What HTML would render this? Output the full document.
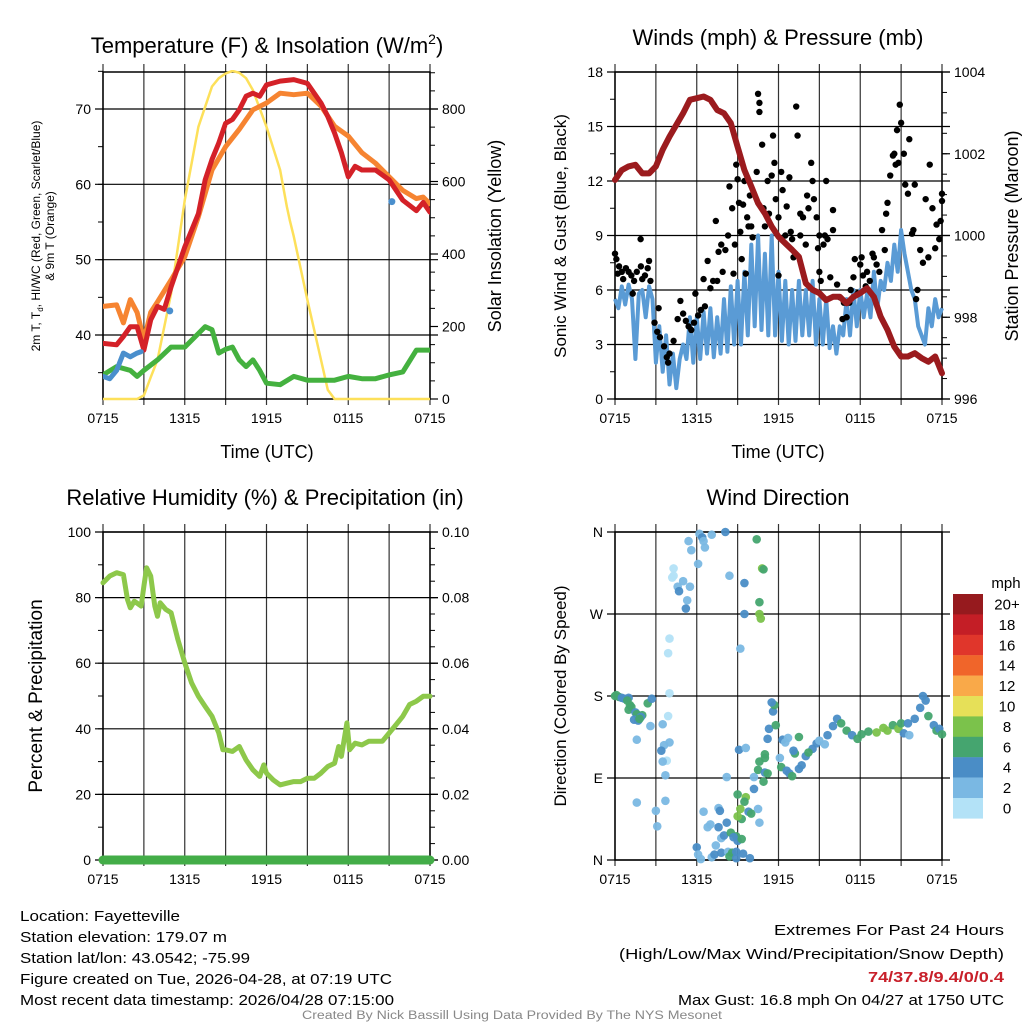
<!DOCTYPE html>
<html><head><meta charset="utf-8"><style>
html,body{margin:0;padding:0;background:#fff}
svg{display:block;font-family:"Liberation Sans",Arial,sans-serif}
</style></head><body>
<svg id="fig" width="1024" height="1024" viewBox="0 0 1024 1024" xmlns="http://www.w3.org/2000/svg">
<rect width="1024" height="1024" fill="#fff"/>
<g id="layer"></g>
<text x="267" y="53" font-size="22" text-anchor="middle">Temperature (F) &amp; Insolation (W/m<tspan font-size="14" dy="-9">2</tspan><tspan dy="9">)</tspan></text>
<text x="778" y="45" font-size="22" text-anchor="middle">Winds (mph) &amp; Pressure (mb)</text>
<text x="265" y="505" font-size="22" text-anchor="middle">Relative Humidity (%) &amp; Precipitation (in)</text>
<text x="778" y="505" font-size="22" text-anchor="middle">Wind Direction</text>
<text x="267" y="458" font-size="18" text-anchor="middle">Time (UTC)</text>
<text x="778" y="458" font-size="18" text-anchor="middle">Time (UTC)</text>
<text transform="translate(40,236) rotate(-90)" font-size="12" text-anchor="middle">2m T, T<tspan font-size="8" dy="3">d</tspan><tspan dy="-3">, HI/WC (Red, Green, Scarlet/Blue)</tspan></text>
<text transform="translate(54,236) rotate(-90)" font-size="12" text-anchor="middle">&amp; 9m T (Orange)</text>
<text transform="translate(501,236) rotate(-90)" font-size="18" text-anchor="middle">Solar Insolation (Yellow)</text>
<text transform="translate(566,236) rotate(-90)" font-size="17" text-anchor="middle">Sonic Wind &amp; Gust (Blue, Black)</text>
<text transform="translate(1018,236) rotate(-90)" font-size="18" text-anchor="middle">Station Pressure (Maroon)</text>
<text transform="translate(42,696) rotate(-90)" font-size="19" text-anchor="middle">Percent &amp; Precipitation</text>
<text transform="translate(566,696) rotate(-90)" font-size="17" text-anchor="middle">Direction (Colored By Speed)</text>
<text x="1006" y="588" font-size="15" text-anchor="middle">mph</text>
<g font-size="15">
<text x="20" y="921" textLength="160" lengthAdjust="spacingAndGlyphs">Location: Fayetteville</text>
<text x="20" y="942" textLength="207" lengthAdjust="spacingAndGlyphs">Station elevation: 179.07 m</text>
<text x="20" y="963" textLength="230" lengthAdjust="spacingAndGlyphs">Station lat/lon: 43.0542; -75.99</text>
<text x="20" y="984" textLength="372" lengthAdjust="spacingAndGlyphs">Figure created on Tue, 2026-04-28, at 07:19 UTC</text>
<text x="20" y="1005" textLength="374" lengthAdjust="spacingAndGlyphs">Most recent data timestamp: 2026/04/28 07:15:00</text>
</g>
<g font-size="15" text-anchor="end">
<text x="1004" y="935" textLength="230" lengthAdjust="spacingAndGlyphs">Extremes For Past 24 Hours</text>
<text x="1004" y="959" textLength="385" lengthAdjust="spacingAndGlyphs">(High/Low/Max Wind/Precipitation/Snow Depth)</text>
<text x="1004" y="982" fill="#c8202a" font-weight="bold" textLength="136" lengthAdjust="spacingAndGlyphs">74/37.8/9.4/0/0.4</text>
<text x="1004" y="1005" textLength="326" lengthAdjust="spacingAndGlyphs">Max Gust: 16.8 mph On 04/27 at 1750 UTC</text>
</g>
<text x="512" y="1019" font-size="11.5" fill="#888" text-anchor="middle" textLength="420" lengthAdjust="spacingAndGlyphs">Created By Nick Bassill Using Data Provided By The NYS Mesonet</text>
</svg>
<script>
// ---- data ----
const xLabels = ["0715","1315","1915","0115","0715"];
const tempT = [0,1,1.5,2,2.5,3,3.5,4,4.5,5,6,7,7.5,8,8.5,9,9.5,10,10.5,11,11.5,12,13,14,15,16,16.5,17,17.5,18,18.5,19,20,21,22,23,23.5,24];
const tempV = [38.9,38.7,39.8,41.1,41.1,38.0,42,43.8,43.4,46.4,51.7,56.1,60.6,63.3,65.5,68.1,68.6,69.9,71.7,72.1,71.7,73.2,73.7,73.9,73.4,70.8,69.0,66.8,64.2,61.0,62.4,61.9,61.9,60.6,57.9,56.5,57.6,56.3];
const t9T = [0,1,1.5,2,2.5,3,3.5,4,5,6,7,8,9,10,11,12,13,14,15,16,17,18,19,20,21,22,23,23.5,24];
const t9V = [43.8,44,41.6,44.7,43,39.3,43,44.4,47.3,50.4,55.7,61.9,65,67.3,69.9,70.8,72.1,71.9,72.1,70.4,67.7,66.4,64.2,62.8,61.0,59.2,58.1,58.3,57.4];
const tdT = [0,1,2,2.5,3,4,5,6,7,7.5,8,8.5,9,9.5,10,10.5,11,11.5,12,13,14,15,16,17,18,19,20,21,22,23,24];
const tdV = [34.7,35.8,35.3,34.5,35.3,36.7,38.4,38.4,40.2,41.1,40.7,37.6,38.1,38.4,36.7,35.8,36.7,35.3,33.6,33.4,34.5,34.0,34.0,34.0,34.5,34.2,34.2,34.7,35.1,38.0,38.0];
const hiT = [0,0.5,1,1.5,2,2.5,2.8];
const hiV = [34.5,34.2,35.3,37.6,37.1,37.6,37.8];
const hiPtsT = [4.9,21.2];
const hiPtsV = [43.2,57.7];
const solarT = [0,2.5,3,3.5,4,5,6,7,8,8.5,9,9.5,10,10.5,11,12,13,13.5,13.7,14,15,16,16.5,17,24];
const solarV = [0,0,10,60,108,291,549,751,862,885,898,905,900,885,852,751,632,530,494,448,273,108,25,0,0];
const presT = [0,0.5,1,1.5,2,2.5,3,3.5,4,5,5.5,6,6.5,7,7.5,8,8.5,9,9.5,10,10.5,11,11.5,12,12.5,13,13.5,14,14.5,15,15.5,16,16.5,17,17.5,18,18.5,19,19.5,20,20.5,21,21.5,22,22.5,23,23.5,24];
const presV = [1001.36,1001.6,1001.69,1001.73,1001.52,1001.52,1001.69,1002.1,1002.42,1002.99,1003.32,1003.36,1003.4,1003.32,1003.07,1002.99,1002.75,1002.17,1001.6,1001.2,1000.79,1000.54,1000.22,999.97,999.81,999.65,999.48,998.83,998.67,998.59,998.42,998.5,998.5,998.34,998.5,998.59,998.71,998.5,998.01,997.69,997.28,997.04,997.04,997.12,997.0,996.91,997.04,996.63];
const windV = [5.5,5.0,6.2,5.2, 6.3,5.5,2.2,5.8, 6.0,4.5,6.2,5.5, 2.0,4.0,1.5,3.5, 0.8,2.5,0.6,2.2, 3.0,2.2,4.5,2.0, 4.5,2.2,4.8,2.5, 5.0,2.3,4.5,2.5, 5.5,2.6,6.2,3.0, 6.5,3.0,7.0,3.5, 8.5,4.0,9.0,3.8, 8.0,3.5,9.0,3.5, 7.0,3.2,6.5,3.0, 6.0,3.2,6.5,3.5, 6.0,3.5,6.5,3.0, 5.5,3.0,5.5,2.8, 4.0,2.5,4.0,3.5, 5.5,3.5,6.0,4.0, 6.0,4.5,5.8,4.5, 7.0,5.0,6.5,6.0, 7.5,6.5,8.5,7.0, 9.3,8.0,7.0,6.0, 5.5,4.0,3.5,3.0, 5.0,4.0,5.5,4.5, 5.0];
const gustT = [0,0.1,0.2,0.3,0.5,0.6,0.8,1.0,1.2,1.4,1.6,1.88,1.9,2.0,2.2,2.4,2.5,2.6,1.3,2.9,3.1,3.2,3.3,3.6,3.8,3.9,4.0,4.3,4.6,4.8,5.0,5.2,5.4,5.6,5.8,5.9,6.1,6.3,6.5,6.6,6.8,7.0,7.2,7.4,7.5,7.6,7.8,7.9,8.1,8.3,8.4,8.6,8.7,8.8,8.9,9.0,9.1,9.2,9.3,9.4,9.5,9.6,9.7,9.8,9.9,10.0,10.1,10.4,10.5,10.6,10.6,10.8,10.9,11.0,11.2,11.3,11.5,11.6,11.7,11.8,12.0,12.0,12.2,12.3,12.5,12.6,12.8,12.9,13.0,13.1,13.3,13.4,13.6,13.6,13.8,14.0,14.1,14.2,14.4,14.5,14.6,14.8,14.9,15.0,15.0,15.1,15.3,15.4,15.5,15.6,15.8,16.0,16.0,16.3,16.5,16.7,16.8,17.0,17.2,17.3,17.5,17.6,17.8,18.0,18.1,18.2,18.4,18.5,18.7,18.9,19.0,19.2,19.4,19.6,19.8,19.9,20.0,20.2,20.4,20.5,20.6,20.7,20.8,20.9,21.0,21.2,21.3,21.5,21.6,21.8,21.9,22.0,22.1,22.2,22.4,22.6,22.8,23.0,23.1,23.3,23.5,23.6,23.8,24.0,23.9,24.0];
const gustV = [8.0,7.7,6.9,7.3,7.0,6.6,7.2,7.0,6.8,6.5,7.0,8.8,7.3,6.6,6.8,7.2,7.6,6.5,5.8,4.2,3.7,5.0,3.4,2.9,2.3,2.0,2.5,3.2,4.4,5.4,4.7,4.3,4.0,3.8,4.2,5.8,4.6,4.9,6.6,5.1,7.6,6.1,6.5,9.8,6.5,8.1,8.5,7.0,8.2,9.0,11.7,10.5,6.9,8.5,12.9,12.1,10.8,9.2,7.7,10.7,12.0,6.9,10.0,9.5,11.2,9.5,8.9,12.5,16.8,16.3,15.8,14.0,10.5,9.5,12.0,10.2,12.3,14.5,13.0,11.0,10.0,6.8,12.5,11.5,9.0,10.6,12.2,9.2,8.8,7.8,16.1,14.5,10.2,9.0,10.0,8.5,11.2,10.5,13.0,12.0,11.0,10.0,8.3,9.0,7.0,6.5,8.5,9.0,12.0,8.8,6.7,10.4,9.3,6.3,5.6,4.4,5.3,4.5,5.3,6.0,6.7,7.7,5.8,7.4,7.8,6.8,6.2,7.0,6.5,8.0,7.8,7.4,7.0,9.3,8.2,10.2,10.8,12.3,13.4,13.5,12.9,14.8,13.0,16.2,15.2,13.5,11.8,11.3,14.3,9.1,9.3,11.8,5.5,6.0,8.2,7.5,11.0,7.8,12.9,10.5,8.3,9.6,8.8,11.3,9.8,10.9];
const rhT = [0,0.5,1,1.5,1.8,2,2.3,2.8,3.0,3.2,3.5,3.8,4.0,4.2,4.6,5,5.5,6,6.5,7,7.5,8,8.5,8.8,9,9.5,10,10.5,11,11.5,11.8,12,12.5,13,13.5,14,14.5,15,15.5,16,16.5,17,17.3,17.5,17.9,18.1,18.5,19,19.5,20,20.5,21,21.5,22,22.5,23,23.5,24];
const rhV = [84.5,86.6,87.6,87,79.4,76.9,78.9,77.4,83.5,89.1,86.6,77.4,74.3,78.4,76.4,75.4,67.2,60.1,54,49.9,46.8,43.8,38.7,33.6,33.6,33.1,34.6,30.5,27.5,25.5,29,26.5,24.4,22.9,23.4,23.9,23.9,24.9,24.9,26.5,28.5,29.5,34.6,31.6,41.8,33.6,35.6,35.1,36.2,36.2,36.2,38.7,41.2,43.8,47.4,48.4,49.9,49.9];
const precipT = [0,24];
const precipV = [0,0];
const dirT = [0,0.1,0.3,0.5,0.7,1.0,0.9,1.1,1.2,1.0,1.5,2.0,1.6,1.9,1.4,1.7,1.8,2.4,2.7,1.6,2.6,3.5,3.9,4.0,3.6,3.8,3.4,3.5,3.7,1.6,3.0,3.1,3.7,4.0,3.9,4.0,4.3,4.3,4.2,4.6,4.7,5.0,5.2,5.3,5.5,5.6,5.4,6.1,6.2,6.4,6.6,6.5,7.1,8.1,8.4,9.5,9.5,9.2,10.4,10.8,10.9,10.6,10.6,10.7,6.0,6.1,6.3,7.1,7.3,7.8,8.3,8.4,8.6,7.4,7.8,8.0,6.8,7.0,7.6,8.2,8.5,8.9,8.7,6.5,7.6,7.7,9.0,9.3,9.4,8.9,9.9,8.9,8.2,9.3,9.8,9.6,9.0,9.5,9.2,9.0,10.0,10.2,10.2,10.5,10.6,9.1,9.6,10.6,10.5,10.9,11.0,11.2,12.1,11.0,11.2,11.3,11.6,11.7,11.5,11.8,11.0,13.2,12.2,12.6,12.8,13.0,13.5,13.7,14.0,14.5,14.8,15.0,15.4,15.6,16.0,16.3,16.6,17.0,17.4,17.8,18.1,18.6,19.2,19.7,20.0,20.4,20.8,21.2,21.6,21.0,21.5,22.0,22.4,22.6,22.8,23.0,23.4,23.6,23.8,24.0,12.3,12.5,12.7,13.1,14.2,13.5];
const dirV = [180,181,179,178,177,178,175,170,168,165,162,159,160,157,154,153,155,172,177,132,147,149,158,129,126,109,120,108,93,63,54,37,65,183,227,243,312,320,310,300,295,306,276,285,300,340,350,325,358,354,343,350,357,360,312,304,270,232,352,320,319,283,270,265,14,6,1,3,6,8,9,4,8,16,24,27,36,39,36,41,30,26,25,53,57,54,21,23,7,9,2,2,91,45,53,69,72,64,56,48,51,78,91,56,41,121,123,108,99,86,96,95,112,112,133,144,163,170,173,148,116,117,102,98,95,92,100,104,114,122,128,131,127,137,147,155,150,142,137,133,138,141,140,145,142,148,144,139,137,150,150,155,167,180,175,158,148,142,144,138,132,129,134,120,118,135];
const dirS = [6,6,6,4,4,4,6,6,6,6,4,6,6,4,4,4,6,6,4,2,2,2,0,2,2,0,4,2,2,2,2,2,2,0,0,0,0,0,0,2,4,2,4,2,2,2,2,2,2,4,2,2,2,4,2,4,4,2,6,8,6,6,8,8,4,2,2,2,4,4,2,6,6,2,2,4,2,2,4,4,6,6,4,2,2,4,4,6,4,4,4,4,2,6,4,8,6,6,8,8,6,4,2,2,2,4,2,6,6,6,4,6,2,6,4,4,4,6,4,6,6,6,6,4,4,6,4,4,4,4,4,2,2,4,4,4,6,6,4,6,6,6,8,8,8,6,8,4,2,6,4,4,4,4,4,6,4,6,4,6,4,2,2,4,6,6,6];
const yTemp = [40,50,60,70];
const ySolar = [0,200,400,600,800];
const yWind = [0,3,6,9,12,15,18];
const yPres = [996,998,1000,1002,1004];
const yRH = [0,20,40,60,80,100];
const yPrecip = ["0.00","0.02","0.04","0.06","0.08","0.10"];
const yDir = ["N","E","S","W","N"];
const cbLabels = ["20+","18","16","14","12","10","8","6","4","2","0"];
const cbColors = ["#961a1e","#c41e26","#e0362b","#f0652a","#f9a949","#e6e058","#7bc24b","#45a56f","#4a8dc6","#7ab8e3","#b3e2f7"];

// ---- helpers ----
const NS="http://www.w3.org/2000/svg";
const layer=document.getElementById('layer');
function mk(tag,attrs,parent){const e=document.createElementNS(NS,tag);for(const k in attrs)e.setAttribute(k,attrs[k]);(parent||layer).appendChild(e);return e;}
function lin(d0,d1,r0,r1){return v=>r0+(v-d0)*(r1-r0)/(d1-d0);}
function pathD(ts,vs,sx,sy){return ts.map((t,i)=>(i?'L':'M')+sx(t).toFixed(1)+','+sy(vs[i]).toFixed(1)).join('');}

function frame(L,R,T,B,name){
  const g=mk('g',{});
  
  
  const sx=lin(0,24,L,R);
  for(let h=0;h<=24;h+=3){
    const x=sx(h);
    const l=mk('line',{x1:x,x2:x,y1:T-8,y2:B+6,stroke:'#333','stroke-width':1.2},g);
    
    
  }
  const r=mk('rect',{x:L,y:T,width:R-L,height:B-T,fill:'none',stroke:'#000','stroke-width':1.5},g);
  
  
  xLabels.forEach((s,i)=>{
    const t=mk('text',{x:sx(i*6),y:B+24,'font-size':14,'text-anchor':'middle'},g);
    t.textContent=s;
    
    
  });
  return {g,sx};
}
function hAxis(g,L,R,vals,labels,sy,side,minorStep,lo,hi,grid){
  const x0= side==='l'?L:R, dir= side==='l'?-1:1;
  if(minorStep){for(let v=lo;v<=hi+1e-9;v+=minorStep){const y=sy(v);mk('line',{x1:x0,x2:x0+dir*5,y1:y,y2:y,stroke:'#000','stroke-width':1},g);}}
  vals.forEach((v,i)=>{
    const y=sy(v);
    if(grid) mk('line',{x1:L-8,x2:R+8,y1:y,y2:y,stroke:'#000','stroke-width':1.2},g);
    else mk('line',{x1:x0,x2:x0+dir*8,y1:y,y2:y,stroke:'#000','stroke-width':1.2},g);
    const t=mk('text',{x:x0+dir*12,y:y+5,'font-size':14,'text-anchor':side==='l'?'end':'start'},g);
    t.textContent=labels[i];
    
    
  });
}

// ---- panel 1: temperature ----
(function(){
  const L=103,R=430,T=72,B=399;
  const {g,sx}=frame(L,R,T,B,'temp');
  const sy=lin(40,70,335,109);
  const ss=lin(0,800,399,109);
  hAxis(g,L,R,yTemp,yTemp.map(String),sy,'l',5,35,75,true);
  hAxis(g,L,R,ySolar,ySolar.map(String),ss,'r',50,0,900,false);
  const clip=mk('clipPath',{id:'c1'});mk('rect',{x:L,y:T-2,width:R-L,height:B-T+4},clip);
  const series=[[solarT,solarV,ss,'#fde05a',2.5,'solar-insolation-line'],[tdT,tdV,sy,'#44b13f',5,'dewpoint-line'],[t9T,t9V,sy,'#f68431',5,'temp-9m-line'],[tempT,tempV,sy,'#d42128',5,'temp-2m-line'],[hiT,hiV,sy,'#4a8fcd',5,'heat-index-line']];
  series.forEach(s=>{
    const p=mk('path',{d:pathD(s[0],s[1],sx,s[2]),fill:'none',stroke:s[3],'stroke-width':s[4],'stroke-linejoin':'round','stroke-linecap':'round','clip-path':'url(#c1)'});
    
    
  });
  hiPtsT.forEach((t,i)=>{
    const c=mk('circle',{cx:sx(t),cy:sy(hiPtsV[i]),r:3.5,fill:'#4a8fcd'});
    
    
  });
})();

// ---- panel 2: wind & pressure ----
(function(){
  const L=615,R=942,T=72,B=399;
  const {g,sx}=frame(L,R,T,B,'wind');
  const sy=lin(0,18,399,72);
  const sp=lin(996,1004,399,72);
  hAxis(g,L,R,yWind,yWind.map(String),sy,'l',1.5,0,18,true);
  hAxis(g,L,R,yPres,yPres.map(String),sp,'r',0.5,996,1004,false);
  const wt=windV.map((v,i)=>i*24/(windV.length-1));
  const p=mk('path',{d:pathD(wt,windV,sx,sy),fill:'none',stroke:'#5a9bd5','stroke-width':4,'stroke-linejoin':'round'});
  
  
  gustT.forEach((t,i)=>{
    const c=mk('circle',{cx:sx(t),cy:sy(gustV[i]),r:3.2,fill:'#000'});
    
    
  });
  const q=mk('path',{d:pathD(presT,presV,sx,sp),fill:'none',stroke:'#9b1b1e','stroke-width':6,'stroke-linejoin':'round','stroke-linecap':'round'});
  
  
})();

// ---- panel 3: RH & precip ----
(function(){
  const L=103,R=430,T=532,B=860;
  const {g,sx}=frame(L,R,T,B,'rh');
  const sy=lin(0,100,860,532);
  const sq=lin(0,0.1,860,532);
  hAxis(g,L,R,yRH,yRH.map(String),sy,'l',10,0,100,true);
  hAxis(g,L,R,yPrecip.map(Number),yPrecip,sq,'r',0.005,0,0.1,false);
  const p=mk('path',{d:pathD(rhT,rhV,sx,sy),fill:'none',stroke:'#8dc84a','stroke-width':5,'stroke-linejoin':'round','stroke-linecap':'round'});
  
  
  const q=mk('path',{d:pathD(precipT,precipV,sx,sq),fill:'none',stroke:'#43ad48','stroke-width':9,'stroke-linecap':'round'});
  
  
})();

// ---- panel 4: wind direction ----
(function(){
  const L=615,R=942,T=532,B=860;
  const {g,sx}=frame(L,R,T,B,'dir');
  const sy=lin(0,360,860,532);
  hAxis(g,L,R,[0,90,180,270,360],yDir,sy,'l',0,0,0,true);
  dirT.forEach((t,i)=>{
    const idx=Math.min(10,Math.floor(dirS[i]/2));
    const c=mk('circle',{cx:sx(t),cy:sy(dirV[i]),r:4.3,fill:cbColors[10-idx],'fill-opacity':0.95});
    
    
  });
  cbLabels.forEach((s,i)=>{
    const y=594+i*20.4;
    const r=mk('rect',{x:953,y:y,width:30,height:20.6,fill:cbColors[i]});
    
    
    const t=mk('text',{x:1007,y:y+15.5,'font-size':15,'text-anchor':'middle'});
    t.textContent=s;
    
    
  });
})();
</script>
</body></html>
